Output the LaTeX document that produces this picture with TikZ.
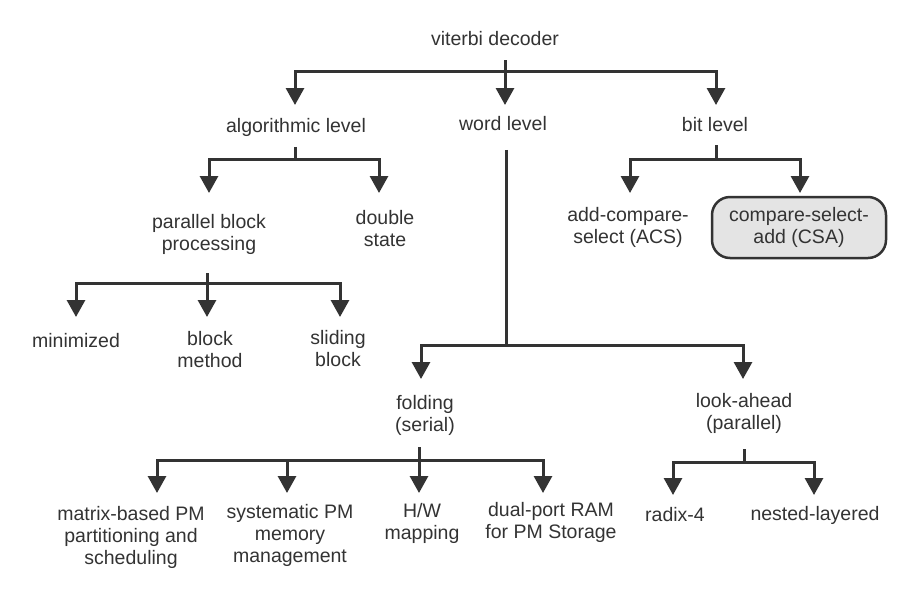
\documentclass[tikz,border=0pt]{standalone}
\usepackage{fontspec}
\setmainfont{Liberation Sans}
\usetikzlibrary{arrows.meta,calc}
\definecolor{ink}{HTML}{333333}
\definecolor{boxfill}{HTML}{E4E4E4}
\begin{document}
\begin{tikzpicture}[x=1pt,y=-1pt,
  lbl/.style={inner sep=0pt, align=center, text=ink, font=\fontsize{19.5}{22}\selectfont},
  ln/.style={draw=ink, line width=3pt},
  arr/.style={ln, -{Triangle[width=18pt,length=17pt]}},
  hl/.style={lbl, draw=ink, line width=2.5pt, fill=boxfill, rounded corners=18pt, minimum width=174pt, minimum height=61pt}]
\useasboundingbox (0,0) rectangle (917,600);
% nodes
\node[lbl] (vit)  at (495,39)    {viterbi decoder};
\node[lbl] (alg)  at (296,127.5) {algorithmic level};
\node[lbl] (word) at (503,123.5) {word level};
\node[lbl] (bit)  at (715,125)   {bit level};
\node[lbl] (par)  at (209,234)   {parallel block\\processing};
\node[lbl] (dbl)  at (385,229)   {double\\state};
\node[lbl] (acs)  at (628,227)   {add-compare-\\select (ACS)};
\node[hl]  (csa)  at (799,227.5) {compare-select-\\add (CSA)};
\node[lbl] (mini) at (76,341)    {minimized};
\node[lbl] (blk)  at (210,350)   {block\\method};
\node[lbl] (sld)  at (338,349)   {sliding\\block};
\node[lbl] (fold) at (425,415)   {folding\\(serial)};
\node[lbl] (look) at (744,413)   {look-ahead\\(parallel)};
\node[lbl] (mat)  at (131,537)   {matrix-based PM\\partitioning and\\scheduling};
\node[lbl] (sys)  at (290,535)   {systematic PM\\memory\\management};
\node[lbl] (hw)   at (422,523)   {H/W\\mapping};
\node[lbl] (dual) at (551,522)   {dual-port RAM\\for PM Storage};
\node[lbl] (rad)  at (675,514.5) {radix-4};
\node[lbl] (nest) at (815,515)   {nested-layered};
% junctions
\coordinate (j0) at (505,71);
\coordinate (j1) at (295,159);
\coordinate (j2) at (716,159);
\coordinate (j3) at (207,283);
\coordinate (j4) at (506,345);
\coordinate (j5) at (419,460);
\coordinate (j6) at (744,462);
% stems
\draw[ln] ($(vit.south -| j0)+(0,14)$) -- (j0);
\draw[ln] ($(alg.south -| j1)+(0,10)$) -- (j1);
\draw[ln] ($(bit.south -| j2)+(0,13)$) -- (j2);
\draw[ln] ($(par.south -| j3)+(0,19)$) -- (j3);
\draw[ln] ($(word.south -| j4)+(0,19)$) -- (j4);
\draw[ln] ($(fold.south -| j5)+(0,12)$) -- (j5);
\draw[ln] ($(look.south -| j6)+(0,16)$) -- (j6);
% arrows
\foreach \c/\o in {alg/-1, word/2, bit/1}
  \draw[arr] (j0) -| ($(j0 -| \c)+(\o,34)$);
\foreach \c/\o in {par/0, dbl/-6}
  \draw[arr] (j1) -| ($(j1 -| \c)+(\o,34)$);
\foreach \c/\o in {acs/2, csa/1}
  \draw[arr] (j2) -| ($(j2 -| \c)+(\o,34)$);
\foreach \c/\o in {mini/0, blk/-3, sld/2}
  \draw[arr] (j3) -| ($(j3 -| \c)+(\o,34)$);
\foreach \c/\o in {fold/-4, look/-1}
  \draw[arr] (j4) -| ($(j4 -| \c)+(\o,34)$);
\foreach \c/\o in {mat/26, sys/-3, hw/-3, dual/-8}
  \draw[arr] (j5) -| ($(j5 -| \c)+(\o,33)$);
\foreach \c/\o in {rad/-2, nest/-1}
  \draw[arr] (j6) -| ($(j6 -| \c)+(\o,33)$);
\end{tikzpicture}
\end{document}
